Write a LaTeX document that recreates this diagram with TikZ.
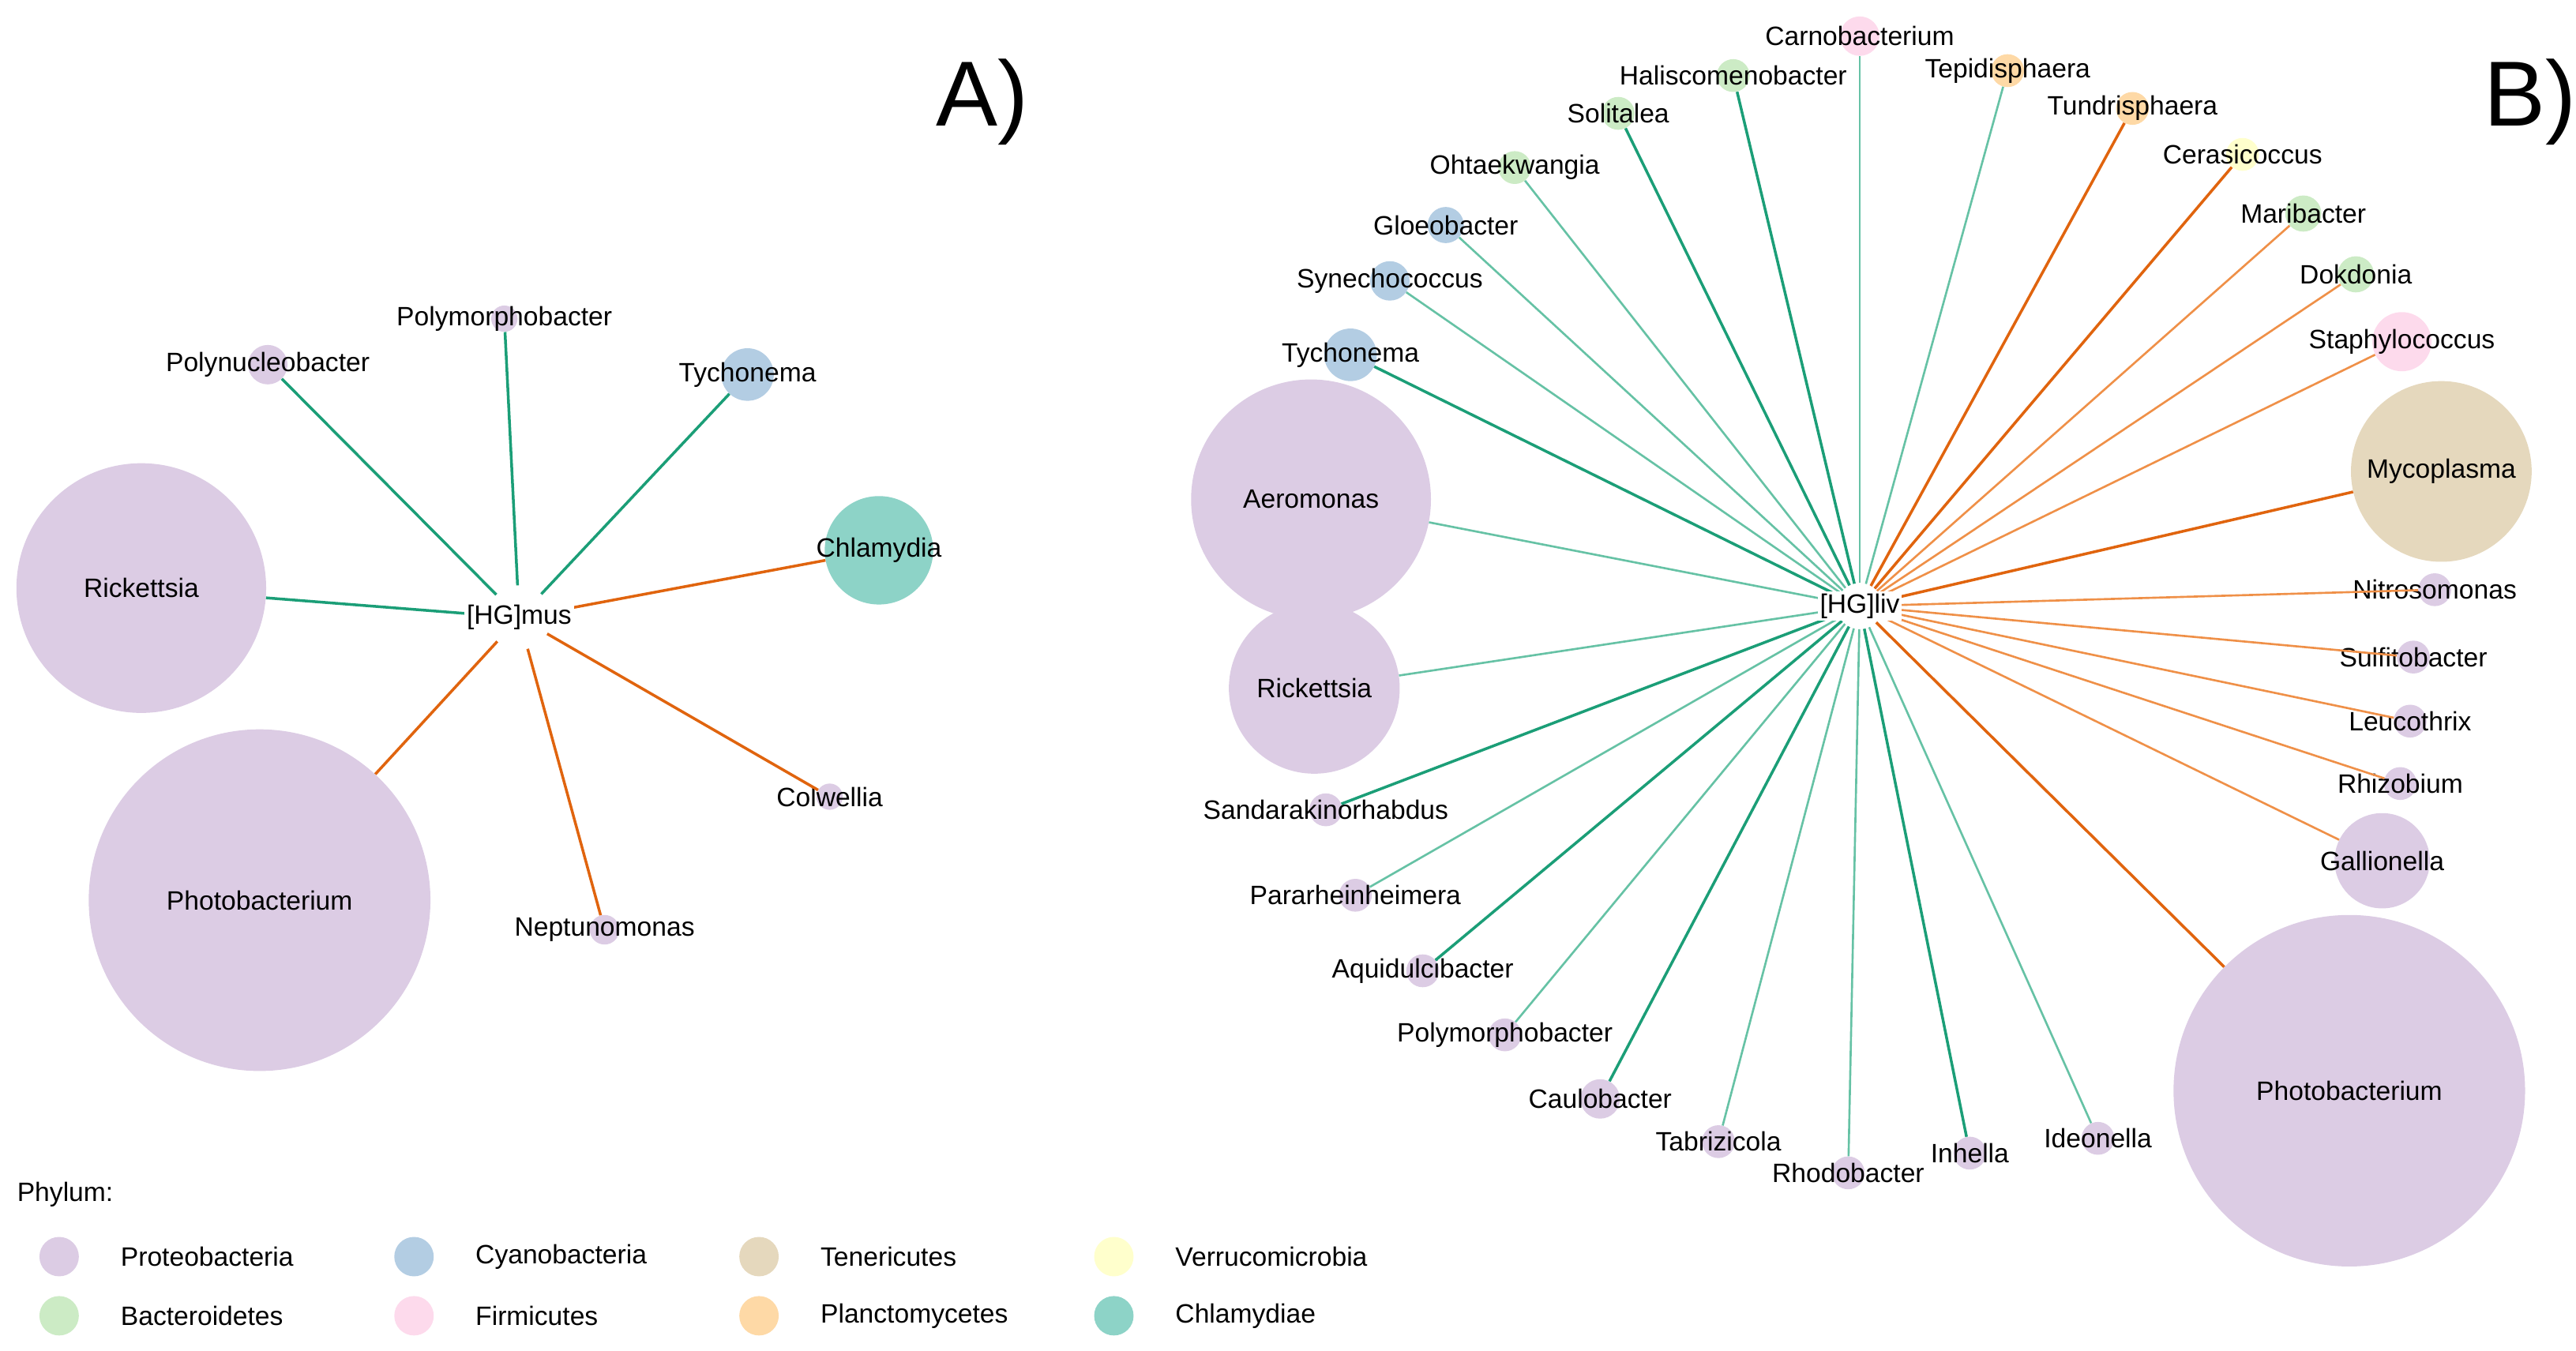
\documentclass[tikz,border=0pt]{standalone}
\usepackage{fontspec}
\setmainfont{Liberation Sans}
\definecolor{prot}{HTML}{DCCCE4}
\definecolor{cyan}{HTML}{B3CDE3}
\definecolor{tene}{HTML}{E5D8BD}
\definecolor{verr}{HTML}{FFFFCC}
\definecolor{bact}{HTML}{CCEBC5}
\definecolor{firm}{HTML}{FDDAEC}
\definecolor{plan}{HTML}{FED9A6}
\definecolor{chla}{HTML}{8DD3C7}
\definecolor{dgreen}{HTML}{1B9E77}
\definecolor{lgreen}{HTML}{66C2A5}
\definecolor{dorange}{HTML}{E0640E}
\definecolor{lorange}{HTML}{EF9048}
\tikzset{
  bug/.style={circle,draw=none,inner sep=0pt},
  tag/.style={font=\fontsize{23}{27}\selectfont},
  hub/.style={tag,fill=white,inner sep=2pt},
  gedge/.style={dgreen,line width=2.4pt},
  ledge/.style={lgreen,line width=1.8pt},
  oedge/.style={dorange,line width=2.4pt},
  pedge/.style={lorange,line width=1.8pt}
}
\begin{document}
\begin{tikzpicture}[x=0.05cm,y=-0.05cm]
  \useasboundingbox (0,0) rectangle (1568,822);
  % panel A
  \foreach \n/\x/\y/\r/\c/\t in {
    aPoly/163/222/12/prot/Polynucleobacter, aPolm/307/194/8/prot/Polymorphobacter,
    aTych/455/228/16/cyan/Tychonema, aChla/535/335/33/chla/Chlamydia,
    aRick/86/358/76/prot/Rickettsia, aPhot/158/548/104/prot/Photobacterium,
    aNept/368/566/9/prot/Neptunomonas, aColw/505/485/8/prot/Colwellia}
  {
    \node[bug,fill=\c,minimum size=2*\r*0.05cm] (\n) at (\x,\y) {};
    \node[tag] at (\x,\y) {\t};
  }
  \coordinate (hA) at (316,376);
  \foreach \n/\s in {aPoly/gedge,aPolm/gedge,aTych/gedge,aRick/gedge,
                     aChla/oedge,aPhot/oedge,aNept/oedge,aColw/oedge}
    \draw[\s,shorten <=28pt] (hA) -- (\n);
  \node[hub] at (hA) {[HG]mus};
  \node[font=\fontsize{80}{90}\selectfont] at (598,62) {A)};
  % panel B
  \foreach \n/\x/\y/\r/\c/\t in {
    bCarn/1132/22/12/firm/Carnobacterium, bHali/1055/46/10/bact/Haliscomenobacter,
    bTepi/1222/43/10/plan/Tepidisphaera, bTund/1298/66/10/plan/Tundrisphaera,
    bSoli/985/69/10/bact/Solitalea, bCera/1365/94/10/verr/Cerasicoccus,
    bOhta/922/102/10/bact/Ohtaekwangia, bMari/1402/130/11/bact/Maribacter,
    bGloe/880/137/11/cyan/Gloeobacter, bDokd/1434/167/11/bact/Dokdonia,
    bSyne/846/171/12/cyan/Synechococcus, bStap/1462/208/18/firm/Staphylococcus,
    bTych/822/216/16/cyan/Tychonema, bAero/798/304/73/prot/Aeromonas,
    bMyco/1486/287/55/tene/Mycoplasma, bNitr/1482/359/10/prot/Nitrosomonas,
    bRick/800/419/52/prot/Rickettsia, bSulf/1469/400/10/prot/Sulfitobacter,
    bLeuc/1467/439/10/prot/Leucothrix, bSand/807/493/10/prot/Sandarakinorhabdus,
    bRhiz/1461/477/10/prot/Rhizobium, bGall/1450/524/29/prot/Gallionella,
    bPara/825/545/10/prot/Pararheinheimera, bAqui/866/591/10/prot/Aquidulcibacter,
    bPhot/1430/664/107/prot/Photobacterium, bPolm/916/630/10/prot/Polymorphobacter,
    bCaul/974/669/12/prot/Caulobacter, bTabr/1046/695/10/prot/Tabrizicola,
    bRhod/1125/714/10/prot/Rhodobacter, bInhe/1199/702/10/prot/Inhella,
    bIdeo/1277/693/10/prot/Ideonella}
  {
    \node[bug,fill=\c,minimum size=2*\r*0.05cm] (\n) at (\x,\y) {};
    \node[tag] at (\x,\y) {\t};
  }
  \coordinate (hB) at (1132,369);
  \foreach \n/\s in {bCarn/ledge,bHali/gedge,bTepi/ledge,bSoli/gedge,bOhta/ledge,
      bGloe/ledge,bSyne/ledge,bTych/gedge,bAero/ledge,bRick/ledge,bSand/gedge,
      bPara/ledge,bAqui/gedge,bPolm/ledge,bCaul/gedge,bTabr/ledge,bRhod/ledge,
      bInhe/gedge,bIdeo/ledge,
      bTund/oedge,bCera/oedge,bMari/pedge,bDokd/pedge,bStap/pedge,bMyco/oedge,
      bNitr/pedge,bSulf/pedge,bLeuc/pedge,bRhiz/pedge,bGall/pedge,bPhot/oedge}
    \draw[\s,shorten <=20pt] (hB) -- (\n);
  \node[hub] at (hB) {[HG]liv};
  \node[font=\fontsize{80}{90}\selectfont] at (1540,62) {B)};
  % legend
  \node[tag,anchor=west] at (8,727) {Phylum:};
  \foreach \c/\t/\x/\y in {prot/Proteobacteria/36/765, cyan/Cyanobacteria/252/765,
      tene/Tenericutes/462/765, verr/Verrucomicrobia/678/765,
      bact/Bacteroidetes/36/801, firm/Firmicutes/252/801,
      plan/Planctomycetes/462/801, chla/Chlamydiae/678/801}
  {
    \node[bug,fill=\c,minimum size=1.2cm] at (\x,\y) {};
    \node[tag,anchor=west] at (\x+35,\y) {\t};
  }
\end{tikzpicture}
\end{document}
